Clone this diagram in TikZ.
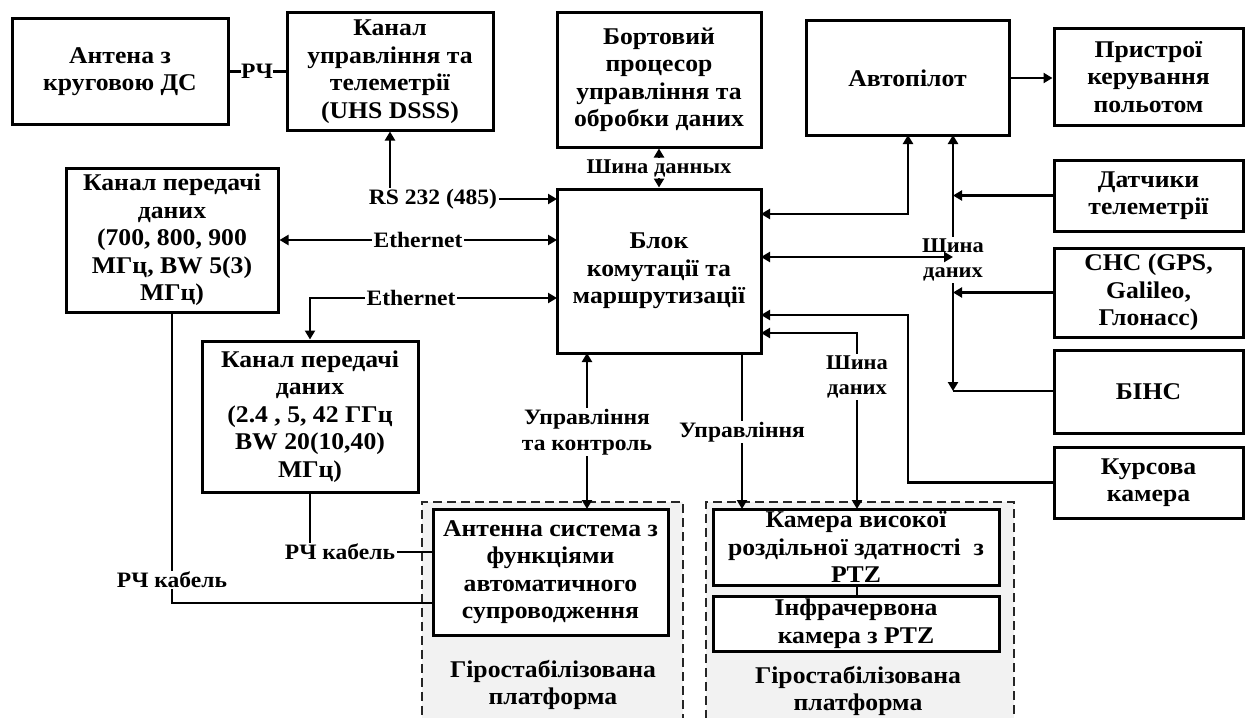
\documentclass[tikz,border=0pt]{standalone}
\usepackage{fontspec}
\setmainfont{Liberation Serif}[FakeStretch=1.07]
\usetikzlibrary{arrows.meta}
\begin{document}
\begin{tikzpicture}[x=1pt,y=-1pt,
  >={Triangle[length=9pt,width=10pt]},
  box/.style={draw, line width=3pt, fill=white, align=center, inner sep=0pt,
    font=\bfseries\fontsize{24}{27.5}\selectfont},
  txt/.style={align=center, inner sep=0pt, font=\bfseries\fontsize{24}{27.5}\selectfont},
  con/.style={line width=2.6pt},
  lbl/.style={fill=white, align=center, inner sep=1.5pt, font=\bfseries\fontsize{22}{26}\selectfont},
  bus/.style={fill=white, align=center, inner sep=1.5pt, font=\bfseries\fontsize{21}{25}\selectfont},
  plat/.style={draw=black!85, fill=black!5, line width=1.6pt, dash pattern=on 9pt off 5pt, inner sep=0pt, anchor=north west}
]
\useasboundingbox (0,0) rectangle (1249,717);
\clip (0,0) rectangle (1249,717);

% platforms
\node[plat, minimum width=261pt, minimum height=240pt] (p1) at (421,501) {};
\node[plat, minimum width=308pt, minimum height=240pt] (p2) at (705,501) {};
\node[txt] (p1t) at (553,685) {Гіростабілізована\\платформа};
\node[txt] (p2t) at (858,691) {Гіростабілізована\\платформа};

% boxes
\node[box, minimum width=216pt, minimum height=105pt] (A) at (120,71.5) {Антена з\\круговою ДС};
\node[box, minimum width=206pt, minimum height=117pt] (B) at (390,71.5) {Канал\\управління та\\телеметрії\\(UHS DSSS)};
\node[box, minimum width=204pt, minimum height=134pt] (bort) at (659,80) {Бортовий\\процесор\\управління та\\обробки даних};
\node[box, minimum width=203pt, minimum height=114pt] (ap) at (907.5,78) {Автопілот};
\node[box, minimum width=189pt, minimum height=96pt] (pr) at (1148.5,77) {Пристрої\\керування\\польотом};
\node[box, minimum width=212pt, minimum height=144pt] (k1) at (172,240) {Канал передачі\\даних\\(700, 800, 900\\МГц, BW 5(3)\\МГц)};
\node[box, minimum width=204pt, minimum height=164pt] (blk) at (659,271) {Блок\\комутації та\\маршрутизації};
\node[box, minimum width=189pt, minimum height=71pt] (dat) at (1148.5,195.5) {Датчики\\телеметрії};
\node[box, minimum width=189pt, minimum height=89pt] (sns) at (1148.5,292.5) {СНС (GPS,\\Galileo,\\Глонасс)};
\node[box, minimum width=189pt, minimum height=83pt] (bins) at (1148.5,391.5) {БІНС};
\node[box, minimum width=189pt, minimum height=71pt] (kurs) at (1148.5,482.5) {Курсова\\камера};
\node[box, minimum width=216pt, minimum height=151pt] (k2) at (310,416.5) {Канал передачі\\даних\\(2.4 , 5, 42 ГГц\\BW 20(10,40)\\МГц)};
\node[box, minimum width=235pt, minimum height=126pt] (ant) at (550.5,572) {Антенна система з\\функціями\\автоматичного\\супроводження};
\node[box, minimum width=286pt, minimum height=76pt] (cam) at (856,547) {};
\node[box, minimum width=286pt, minimum height=55pt] (ir) at (856,623.5) {Інфрачервона\\камера з PTZ};

% coordinates
\coordinate (rsE) at (557,199);
\coordinate (e1E) at (557,240);
\coordinate (e2E) at (557,298);
\coordinate (e2C) at (310,298);
\coordinate (apL) at (908,135);
\coordinate (apC) at (908,214);
\coordinate (apE) at (761,214);
\coordinate (bt) at (953,135);
\coordinate (bc) at (953,391);
\coordinate (bbE) at (761,257);
\coordinate (bbB) at (953,257);
\coordinate (kuC) at (908,482.5);
\coordinate (kuT) at (908,315);
\coordinate (kuE) at (761,315);
\coordinate (s2T) at (857,333);
\coordinate (s2E) at (761,333);
\coordinate (s2B) at (857,509);
\coordinate (u1T) at (742,353);
\coordinate (u1B) at (742,509);
\coordinate (ucT) at (587,353);
\coordinate (ucB) at (587,509);
\coordinate (rf2C) at (310,552);
\coordinate (rf2E) at (433,552);
\coordinate (rf1C) at (172,603);
\coordinate (rf1E) at (433,603);

% connectors
\draw[con] (A.east) -- (B.west);
\node[lbl, inner sep=0.5pt] (lrf) at (257,71) {РЧ};

\draw[con,<->] (B.south) |- (rsE);
\node[lbl] (lrs) at (433,199) {RS 232 (485)};

\draw[con,<->] (k1.east) -- (e1E);
\node[lbl] (le1) at (418,240) {Ethernet};

\draw[con,<->] (e2E) -- (e2C) -- (k2.north);
\node[lbl] (le2) at (411,298) {Ethernet};

\draw[con,<->] (bort.south) -- (blk.north);
\node[bus] (lsd) at (659,168) {Шина данных};

\draw[con,<->] (apL) -- (apC) -- (apE);
\draw[con,->] (ap.east) -- (ap.east -| pr.west);

\draw[con,<->] (bt) -- (bc);
\draw[con] (bc) -- (bins.west |- bc);
\node[bus] (lbus) at (953,260) {Шина\\даних};
\draw[con,<->] (bbE) -- (bbB);
\draw[con,->] (dat.west) -- (dat.west -| bt);
\draw[con,->] (sns.west) -- (sns.west -| bt);

\draw[con,->] (kurs.west) -- (kuC) -- (kuT) -- (kuE);

\draw[con,<->] (s2B) -- (s2T) -- (s2E);
\node[bus] (lsd2) at (857,377) {Шина\\даних};

\draw[con,->] (u1T) -- (u1B);
\node[lbl] (lu1) at (742,432) {Управління};

\draw[con,<->] (ucT) -- (ucB);
\node[lbl] (luc) at (587,432) {Управління\\та контроль};

\draw[con] (k2.south) -- (rf2C) -- (rf2E);
\node[lbl] (lrf2) at (340,552) {РЧ кабель};

\draw[con] (k1.south) -- (rf1C) -- (rf1E);
\node[lbl] (lrf1) at (172,580) {РЧ кабель};

\draw[con] (cam.south -| s2B) -- (ir.north -| s2B);
\node[txt] (camt) at (856,547) {Камера високої\\роздільної здатності~ з\\PTZ};
\end{tikzpicture}
\end{document}
